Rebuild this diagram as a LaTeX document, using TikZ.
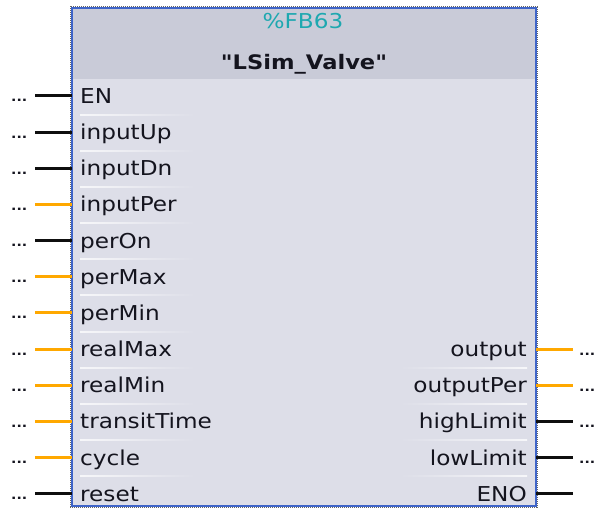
\documentclass[tikz,border=0pt]{standalone}
\usepackage{fontspec}
\setmainfont[FakeStretch=1.13,Ligatures=TeXOff]{DejaVu Sans}
\definecolor{fbhead}{RGB}{201,203,216}
\definecolor{fbbody}{RGB}{221,222,232}
\definecolor{fbblue}{RGB}{62,100,200}
\definecolor{fbteal}{RGB}{30,168,176}
\definecolor{wireorange}{RGB}{255,168,0}
\definecolor{wireblack}{RGB}{15,15,15}
\definecolor{fbtext}{RGB}{20,20,30}
\tikzset{
  pinlbl/.style={inner sep=0pt, text height=15pt, text depth=0pt, text=fbtext, font=\fontsize{20.5}{24}\selectfont},
  dotlbl/.style={inner sep=0pt, anchor=base west, text=fbtext, font=\fontsize{12.5}{15}\selectfont\bfseries},
  wire/.style={line width=3pt}
}

\begin{document}
\begin{tikzpicture}[x=1pt,y=-1pt]
    \useasboundingbox (0,0) rectangle (597,508);
    \node[fill=fbbody, minimum width=464pt, minimum height=498pt, inner sep=0pt] (fb) at (304,257) {};
    \fill[fbhead] (fb.north west) rectangle (fb.east |- 0,79);
    \foreach \i in {1,...,11} {
        \pgfmathsetmacro{\ys}{78+36.15*\i}
        \shade[left color=white!75!fbbody, right color=fbbody] (80,\ys) rectangle (195,\ys+1);
    }
    \foreach \i in {8,...,11} {
        \pgfmathsetmacro{\ys}{78+36.15*\i}
        \shade[left color=fbbody, right color=white!75!fbbody] (400,\ys) rectangle (527,\ys+1);
    }
    \draw[fbblue, line width=2.5pt] (fb.north west) rectangle (fb.south east);
    \draw[black!60, line width=1pt, dash pattern=on 1pt off 1pt] ([shift={(-1.75pt,1.75pt)}]fb.north west) rectangle ([shift={(1.75pt,-1.75pt)}]fb.south east);
    \node[pinlbl, text=fbteal] (fbnum) at (303,21) {\%FB63};
    \node[pinlbl, font=\fontsize{20}{24}\selectfont\bfseries] (fbname) at (304,62) {"LSim\_Valve"};
    \foreach \lbl/\col [count=\i from 0] in {EN/wireblack, inputUp/wireblack, inputDn/wireblack, inputPer/wireorange, perOn/wireblack, perMax/wireorange, perMin/wireorange, realMax/wireorange, realMin/wireorange, transitTime/wireorange, cycle/wireorange, reset/wireblack} {
        \pgfmathsetmacro{\yy}{96+36.15*\i}
        \node[pinlbl, anchor=west] (in\i) at (80,\yy) {\lbl};
        \coordinate (win\i) at (35,\yy);
        \node[dotlbl] (din\i) at (11,\yy+6) {...};
        \draw[wire, \col] (fb.west |- in\i) -- (win\i);
    }
    \foreach \lbl/\col/\i in {output/wireorange/7, outputPer/wireorange/8, highLimit/wireblack/9, lowLimit/wireblack/10, ENO/wireblack/11} {
        \pgfmathsetmacro{\yy}{96+36.15*\i}
        \node[pinlbl, anchor=east] (out\i) at (527,\yy) {\lbl};
        \coordinate (wout\i) at (573,\yy);
        \draw[wire, \col] (fb.east |- out\i) -- (wout\i);
    }
    \foreach \i in {7,...,10} {
        \pgfmathsetmacro{\yy}{96+36.15*\i}
        \node[dotlbl] (dout\i) at (579,\yy+6) {...};
    }
\end{tikzpicture}
\end{document}
